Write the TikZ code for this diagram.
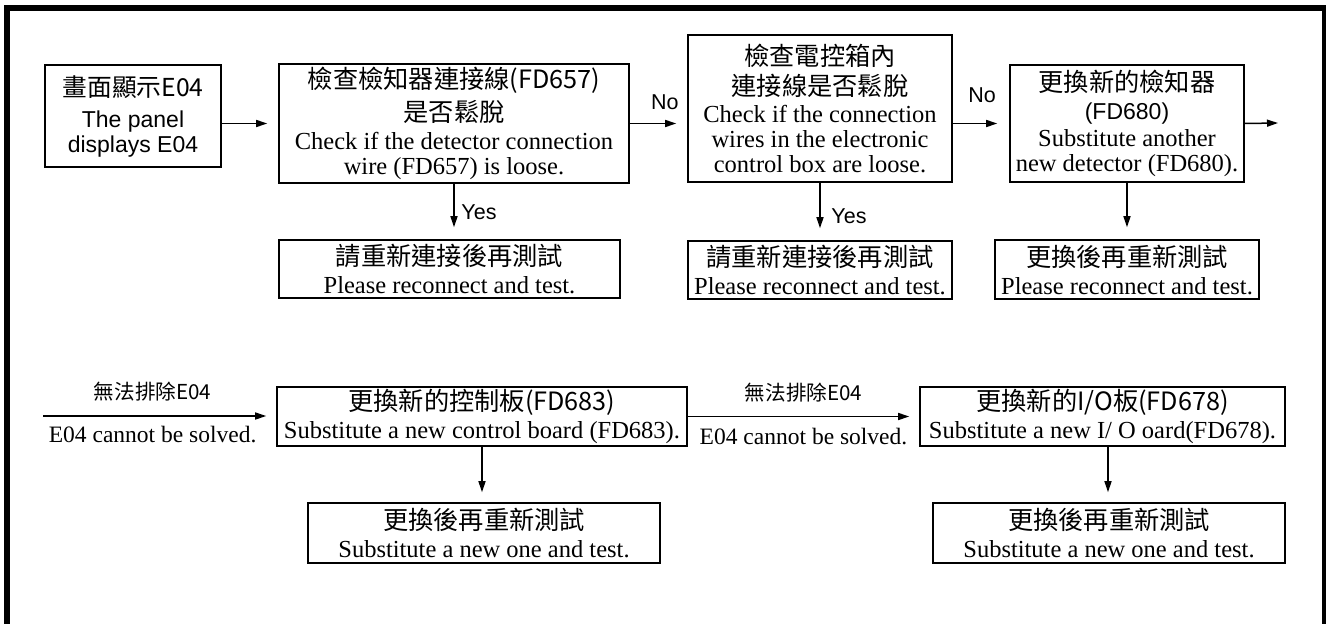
\documentclass[tikz,border=0pt]{standalone}
\usepackage{fontspec}
\setmainfont{Liberation Serif}
\newfontfamily\cjk{Noto Sans CJK TC}[Scale=1.03]
\newfontfamily\hv{Liberation Sans}
\usetikzlibrary{arrows.meta}
\begin{document}
\begin{tikzpicture}[x=1pt,y=-1pt,
  box/.style={draw, line width=1.6pt, inner sep=0pt, align=center,
    font=\fontsize{24.5}{25}\selectfont},
  arr/.style={line width=1.5pt, -{Triangle[length=11pt,width=7pt]}},
  lbl/.style={font=\hv\fontsize{21.5}{24}\selectfont, inner sep=0pt},
  elbl/.style={font=\fontsize{23.5}{25}\selectfont, inner sep=0pt},
  clbl/.style={font=\cjk\fontsize{20}{22}\selectfont, inner sep=0pt}]
\useasboundingbox (0,0) rectangle (1326,624);
\clip (0,0) rectangle (1326,624);
\draw[line width=6pt] (7,700) -- (7,8) -- (1325,8) -- (1325,700);

% top row
\node[box, minimum width=176pt, minimum height=102pt] (b1) at (133,116)
  {{\cjk\fontsize{24}{25}\selectfont 畫面顯示E04}\\[6pt]{\hv\fontsize{23}{25}\selectfont The panel}\\{\hv\fontsize{23}{25}\selectfont displays E04}};
\node[box, minimum width=350pt, minimum height=119pt] (b2) at (454,123.5)
  {{\cjk 檢查檢知器連接線(FD657)}\\[6pt]{\cjk 是否鬆脫}\\[3pt]Check if the detector connection\\wire (FD657) is loose.};
\node[box, minimum width=341pt, minimum height=58pt] (b2b) at (449.5,269)
  {{\cjk 請重新連接後再測試}\\[3pt]Please reconnect and test.};
\node[box, minimum width=264pt, minimum height=147pt] (b3) at (820,108.5)
  {{\cjk 檢查電控箱內}\\[5pt]{\cjk 連接線是否鬆脫}\\[2pt]Check if the connection\\wires in the electronic\\control box are loose.};
\node[box, minimum width=264pt, minimum height=58pt] (b3b) at (820,270)
  {{\cjk 請重新連接後再測試}\\[3pt]Please reconnect and test.};
\node[box, minimum width=234pt, minimum height=117pt] (b4) at (1127,123.5)
  {{\cjk 更換新的檢知器}\\[3pt]{\hv\fontsize{23}{25}\selectfont (FD680)}\\[2pt]Substitute another\\new detector (FD680).};
\node[box, minimum width=264pt, minimum height=59pt] (b4b) at (1127,269.5)
  {{\cjk 更換後再重新測試}\\[3pt]Please reconnect and test.};

% bottom row
\node[box, minimum width=410pt, minimum height=59pt] (b5) at (482,416.5)
  {{\cjk 更換新的控制板(FD683)}\\[3pt]Substitute a new control board (FD683).};
\node[box, minimum width=352pt, minimum height=60pt] (b5b) at (484,533)
  {{\cjk 更換後再重新測試}\\[3pt]Substitute a new one and test.};
\node[box, minimum width=365pt, minimum height=59pt] (b6) at (1102.5,416.5)
  {{\cjk 更換新的I/O板(FD678)}\\[3pt]Substitute a new I/ O oard(FD678).};
\node[box, minimum width=352pt, minimum height=60pt] (b6b) at (1109,533)
  {{\cjk 更換後再重新測試}\\[3pt]Substitute a new one and test.};

\coordinate (c1) at (1278,123);
\coordinate (c2) at (43,416);

% connectors
\draw[arr, shorten >=11pt] (b1.east |- b2.west) -- (b2.west);
\draw[arr, shorten >=11pt] (b2.east) -- (b2.east -| b3.west)
  node[lbl, pos=0.61, yshift=21pt] {No};
\draw[arr, shorten >=12pt] (b2.south) -- (b2.south |- b2b.north)
  node[lbl, pos=0.51, xshift=25pt] {Yes};
\draw[arr, shorten >=12pt] (b3.east |- b4.west) -- (b4.west)
  node[lbl, pos=0.52, yshift=28pt] {No};
\draw[arr, shorten >=12pt] (b3.south) -- (b3.south |- b3b.north)
  node[lbl, pos=0.59, xshift=29pt] {Yes};
\draw[arr] (b4.east) -- (c1);
\draw[arr, shorten >=12pt] (b4.south) -- (b4.south |- b4b.north);

\draw[arr, shorten >=10pt] (c2) -- (c2 -| b5.west)
  node[clbl, pos=0.47, yshift=24pt] {無法排除E04}
  node[elbl, pos=0.47, yshift=-19pt] {E04 cannot be solved.};
\draw[arr, shorten >=10pt] (b5.east) -- (b6.west)
  node[clbl, pos=0.5, yshift=24pt] {無法排除E04}
  node[elbl, pos=0.5, yshift=-20pt] {E04 cannot be solved.};
\draw[arr, shorten >=10pt] (b5.south) -- (b5.south |- b5b.north);
\draw[arr, shorten >=10pt] ([xshift=5.5pt]b6.south) -- ([xshift=5.5pt]b6.south |- b6b.north);
\end{tikzpicture}
\end{document}
